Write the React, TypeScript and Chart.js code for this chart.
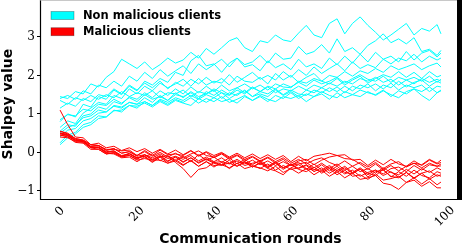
import React, { useEffect, useRef } from "react";
import { Chart, registerables } from "chart.js";

Chart.register(...registerables);

const rounds = [0,2,4,6,8,10,12,14,16,18,20,22,24,26,28,30,32,34,36,38,40,42,44,46,48,50,52,54,56,58,60,62,64,66,68,70,72,74,76,78,80,82,84,86,88,90,92,94,96,98,99];

const xTickValues = [0, 20, 40, 60, 80, 100];
const yTickValues = [-1, 0, 1, 2, 3];

const legendLabels = ["Non malicious clients", "Malicious clients"];
const xTitle = "Communication rounds";
const yTitle = "Shalpey value";

// Non malicious clients
const c1 = [1.45, 1.40,1.58,1.52,1.78,1.70, 1.95,2.10,2.42,2.30,2.18, 2.35,2.15,2.28,2.45,2.32, 2.40,2.60,2.45,2.70,2.55, 2.72,2.90,2.98,2.72,2.62, 2.90,2.85,3.05,2.92,2.88, 3.10,3.30,3.05,2.98,3.35, 3.47,3.08,3.35,3.52,3.30, 3.12,2.92,3.05,3.20,3.35, 3.05,3.22,3.15,3.32,3.08];
const c2 = [1.40, 1.48,1.38,1.60,1.52,1.75, 1.68,1.85,1.72,1.98,1.85, 2.08,1.92,2.15,1.98,2.12, 2.25,2.05,2.30,2.15,2.28, 2.42,2.22,2.45,2.28,2.35, 2.52,2.32,2.58,2.42,2.45, 2.75,2.55,2.62,2.80,2.58, 2.95,2.62,2.72,2.55,2.78, 2.90,3.08,2.85,2.95,2.82, 2.98,2.62,2.68,2.52,2.65];
const c3 = [0.80, 1.00,0.92,1.25,1.18,1.45, 1.38,1.62,1.50,1.72,1.60, 1.85,1.75,1.92,1.82,2.08, 2.00,2.38,2.52,2.25,2.30, 2.08,2.32,2.45,2.22,2.28, 2.12,2.38,2.20,2.30,2.15, 2.42,2.22,2.30,2.18,2.45, 2.28,2.50,2.32,2.55,2.35, 2.60,2.42,2.50,2.35,2.62, 2.40,2.58,2.65,2.48,2.58];
const c4 = [0.65, 0.82,0.75,1.02,1.15,1.30, 1.25,1.48,1.40,1.65,1.52, 1.72,1.60,1.80,1.68,1.78, 1.90,1.72,1.92,1.75,1.85, 1.80,2.02,1.82,1.95,2.08, 1.90,2.00,1.88,2.10,1.95, 2.15,2.00,2.22,2.05,2.18, 2.30,2.12,2.35,2.18,2.28, 2.20,2.42,2.30,2.45,2.38, 2.55,2.35,2.50,2.40,2.45];
const c5 = [1.15, 1.28,1.20,1.40,1.32,1.50, 1.45,1.65,1.52,1.75,1.62, 1.80,1.68,1.85,1.65,1.82, 1.72,1.90,1.78,1.95,1.80, 1.92,1.75,1.98,1.85,1.82, 1.95,1.78,2.05,1.88,2.00, 1.82,1.95,2.05,1.85,1.78, 1.92,1.75,1.88,1.98,1.80, 1.92,2.02,1.95,2.10,1.95, 2.08,1.92,2.10,1.96,2.00];
const c6 = [0.55, 0.72,0.68,0.95,1.00,1.18, 1.12,1.32,1.25,1.45,1.38, 1.55,1.42,1.60,1.48,1.65, 1.52,1.70,1.55,1.72,1.58, 1.75,1.60,1.68,1.78,1.65, 1.75,1.62,1.78,1.70,1.68, 1.85,1.80,1.92,1.85,2.00, 1.95,2.10,1.98,2.12,2.05, 2.18,2.08,2.25,2.15,2.22, 2.30,2.15,2.25,2.32,2.22];
const c7 = [0.50, 0.65,0.72,0.90,0.95,1.10, 1.05,1.22,1.18,1.30,1.25, 1.42,1.30,1.48,1.35,1.50, 1.45,1.55,1.40,1.58,1.48, 1.62,1.50,1.68,1.55,1.70, 1.58,1.72,1.65,1.78,1.70, 1.82,1.72,1.88,1.78,1.85, 1.95,1.80,1.92,2.02,1.90, 1.85,1.98,1.82,1.95,1.88, 1.78,1.92,1.82,1.90,1.85];
const c8 = [0.25, 0.45,0.52,0.72,0.78,0.95, 0.92,1.10,1.05,1.22,1.15, 1.32,1.22,1.38,1.30,1.42, 1.35,1.48,1.38,1.50,1.42, 1.55,1.40,1.52,1.60,1.45, 1.52,1.45,1.62,1.48,1.58, 1.45,1.62,1.55,1.68,1.58, 1.70,1.55,1.72,1.65,1.78, 1.60,1.75,1.68,1.85,1.70, 1.82,1.88,1.72,1.85,1.80];
const c9 = [0.85, 0.98,0.95,1.12,1.08,1.25, 1.22,1.38,1.28,1.42,1.32, 1.50,1.38,1.45,1.35,1.55, 1.42,1.58,1.45,1.52,1.62, 1.40,1.55,1.48,1.62,1.45, 1.58,1.52,1.65,1.50,1.62, 1.52,1.48,1.62,1.55,1.68, 1.58,1.72,1.60,1.75,1.68, 1.78,1.65,1.80,1.62,1.75, 1.68,1.75,1.58,1.72,1.70];
const c10 = [0.40, 0.58,0.62,0.82,0.88,1.02, 1.05,1.20,1.15,1.30,1.25, 1.32,1.22,1.35,1.25,1.38, 1.30,1.42,1.28,1.40,1.32, 1.45,1.30,1.38,1.48,1.35, 1.45,1.32,1.48,1.40,1.55, 1.40,1.52,1.45,1.58,1.48, 1.42,1.58,1.50,1.62,1.55, 1.50,1.62,1.45,1.60,1.52, 1.65,1.58,1.70,1.55,1.62];
const c11 = [1.35, 1.25,1.42,1.35,1.48,1.38, 1.50,1.42,1.58,1.45,1.55, 1.48,1.60,1.42,1.55,1.52, 1.62,1.45,1.58,1.52,1.65, 1.55,1.48,1.62,1.52,1.68, 1.58,1.70,1.55,1.65,1.60, 1.72,1.62,1.75,1.68,1.80, 1.72,1.85,1.78,1.92,1.85, 1.95,1.82,1.90,1.75,1.88, 1.95,1.85,1.98,1.82,1.90];
const c12 = [0.20, 0.38,0.48,0.65,0.72,0.88, 0.92,1.08,1.10,1.22,1.20, 1.28,1.18,1.32,1.22,1.35, 1.28,1.22,1.40,1.30,1.42, 1.32,1.38,1.28,1.45,1.35, 1.48,1.38,1.32,1.45,1.40, 1.48,1.32,1.45,1.52,1.38, 1.55,1.42,1.50,1.45,1.58, 1.48,1.60,1.50,1.42,1.58, 1.65,1.48,1.35,1.55,1.60];

// Malicious clients
const r1 = [1.10, 0.72,0.40,0.38,0.20,0.18, 0.05,0.10,-0.02,0.02,-0.08, 0.02,-0.10,0.00,-0.12,-0.02, -0.14,-0.04,0.04,-0.08,-0.12, -0.02,-0.15,-0.06,-0.18,-0.10, -0.22,-0.12,-0.24,-0.14,-0.28, -0.18,-0.30,-0.20,-0.14,-0.26, -0.34,-0.22,-0.36,-0.26,-0.38, -0.26,-0.42,-0.30,-0.24,-0.38, -0.28,-0.32,-0.18,-0.28,-0.20];
const r2 = [0.55, 0.50,0.36,0.32,0.20,0.24, 0.12,0.16,0.05,0.12,0.02, 0.10,-0.02,0.08,-0.04,0.06, -0.06,0.05,-0.08,0.02,-0.08, 0.00,-0.12,-0.02,-0.14,-0.04, -0.16,-0.06,-0.18,-0.08,-0.24, -0.10,-0.22,-0.10,-0.06,-0.02, -0.08,-0.06,-0.20,-0.18,-0.34, -0.20,-0.32,-0.18,-0.30,-0.36, -0.22,-0.34,-0.20,-0.30,-0.26];
const r3 = [0.50, 0.44,0.30,0.28,0.14,0.12, 0.00,0.02,-0.10,-0.02,-0.14, -0.10,-0.04,-0.22,-0.10,-0.26, -0.42,-0.65,-0.44,-0.40,-0.26, -0.32,-0.28,-0.36,-0.24,-0.34, -0.42,-0.30,-0.46,-0.34,-0.44, -0.40,-0.34,-0.50,-0.40,-0.54, -0.42,-0.56,-0.46,-0.62,-0.52, -0.46,-0.56,-0.42,-0.38,-0.50, -0.34,-0.46,-0.32,-0.36,-0.35];
const r4 = [0.45, 0.42,0.30,0.30,0.16,0.18, 0.06,0.10,-0.02,0.02,-0.10, -0.06,-0.14,-0.04,-0.16,-0.10, -0.18,-0.08,-0.22,-0.12,-0.24, -0.14,-0.28,-0.18,-0.30,-0.20, -0.32,-0.22,-0.34,-0.24,-0.34, -0.30,-0.26,-0.40,-0.28,-0.42, -0.30,-0.46,-0.36,-0.50,-0.42, -0.54,-0.40,-0.52,-0.58,-0.44, -0.56,-0.42,-0.52,-0.40,-0.45];
const r5 = [0.50, 0.46,0.32,0.28,0.12,0.08, -0.04,0.00,-0.10,-0.08,-0.18, -0.06,-0.20,-0.10,-0.24,-0.12, -0.26,-0.14,-0.28,-0.18,-0.28, -0.34,-0.20,-0.36,-0.26,-0.38, -0.28,-0.42,-0.48,-0.58,-0.40, -0.32,-0.44,-0.30,-0.46,-0.34, -0.48,-0.36,-0.52,-0.40,-0.54, -0.60,-0.44,-0.64,-0.50,-0.62, -0.46,-0.60,-0.66,-0.50,-0.54];
const r6 = [0.55, 0.48,0.34,0.30,0.15,0.12, -0.02,-0.04,-0.14,-0.12,-0.24, -0.12,-0.26,-0.12,-0.08,-0.22, -0.10,-0.24,-0.06,-0.20,-0.12, -0.26,-0.14,-0.30,-0.18,-0.32, -0.20,-0.36,-0.24,-0.40,-0.32, -0.26,-0.42,-0.46,-0.32,-0.48, -0.36,-0.52,-0.56,-0.42,-0.64, -0.50,-0.46,-0.62,-0.66,-0.52, -0.68,-0.54,-0.70,-0.58,-0.62];
const r7 = [0.45, 0.40,0.26,0.24,0.08,0.08, -0.04,-0.02,-0.12,-0.08,-0.20, -0.16,-0.20,-0.20,-0.28,-0.22, -0.34,-0.20,-0.36,-0.24,-0.38, -0.26,-0.42,-0.28,-0.24,-0.38, -0.26,-0.40,-0.28,-0.44,-0.32, -0.44,-0.50,-0.38,-0.54,-0.42, -0.58,-0.46,-0.62,-0.58,-0.70, -0.56,-0.72,-0.68,-0.62,-0.78, -0.66,-0.82,-0.68,-0.84,-0.77];
const r8 = [0.40, 0.38,0.28,0.26,0.12,0.14, 0.00,0.04,-0.08,-0.04,-0.14, -0.10,-0.24,-0.12,-0.28,-0.18, -0.32,-0.22,-0.36,-0.24,-0.34, -0.32,-0.40,-0.28,-0.42,-0.36, -0.40,-0.48,-0.36,-0.52,-0.42, -0.54,-0.42,-0.58,-0.46,-0.62, -0.50,-0.66,-0.54,-0.70,-0.66, -0.60,-0.80,-0.84,-0.96,-0.78, -0.72,-0.88,-0.76,-0.92,-0.92];
const r9 = [0.50, 0.47,0.36,0.32,0.20,0.18, 0.08,0.08,0.04,0.06,-0.08, 0.05,-0.08,0.06,-0.06,-0.04, -0.08,0.04,-0.10,0.00,-0.14, -0.04,-0.18,-0.08,-0.22,-0.12, -0.24,-0.14,-0.28,-0.18,-0.34, -0.22,-0.18,-0.32,-0.20,-0.12, -0.08,-0.16,-0.18,-0.30,-0.44, -0.30,-0.46,-0.34,-0.48,-0.36, -0.28,-0.40,-0.28,-0.36,-0.30];
const r10 = [0.48, 0.44,0.32,0.30,0.14,0.14, 0.02,0.04,-0.10,-0.04,-0.16, -0.06,-0.18,-0.08,-0.22,-0.12, -0.24,-0.14,-0.26,-0.16,-0.26, -0.24,-0.30,-0.22,-0.34,-0.28, -0.24,-0.38,-0.26,-0.40,-0.30, -0.42,-0.32,-0.44,-0.50,-0.38, -0.52,-0.40,-0.54,-0.44,-0.58, -0.46,-0.60,-0.50,-0.64,-0.52, -0.66,-0.54,-0.48,-0.62,-0.58];

const benignSeries = [c1, c2, c3, c4, c5, c6, c7, c8, c9, c10, c11, c12];
const maliciousSeries = [r1, r2, r3, r4, r5, r6, r7, r8, r9, r10];

const CYAN = "#00ffff";
const RED = "#ff0000";

function toPoints(values: number[]) {
  return values.map((v, i) => ({ x: rounds[i], y: v }));
}

const decorPlugin = {
  id: "decor",
  afterDraw(chart: any) {
    const ctx = chart.ctx as CanvasRenderingContext2D;
    const area = chart.chartArea;
    const xs = chart.scales.x;
    ctx.save();
    // spines
    ctx.strokeStyle = "#000";
    ctx.lineWidth = 1.2;
    ctx.beginPath();
    ctx.moveTo(area.left - 0.5, 0);
    ctx.lineTo(area.left - 0.5, area.bottom + 0.5);
    ctx.lineTo(462, area.bottom + 0.5);
    ctx.stroke();
    ctx.strokeStyle = "#c8c8c8";
    ctx.lineWidth = 1;
    ctx.beginPath();
    ctx.moveTo(area.left - 0.5, 0.5);
    ctx.lineTo(457, 0.5);
    ctx.stroke();
    ctx.fillStyle = "#000";
    ctx.fillRect(457, 0, 5, area.bottom + 1);

    // x tick labels, rotated 45deg and centred on the tick
    ctx.font = "12px 'DejaVu Serif'";
    ctx.fillStyle = "#000";
    ctx.textAlign = "center";
    ctx.textBaseline = "middle";
    const s = Math.SQRT1_2;
    for (const v of xTickValues) {
      const label = String(v);
      const px = xs.getPixelForValue(v);
      const w = ctx.measureText(label).width * 0.92;
      const h = 8.8;
      const H = (w + h) * s;
      const cy = area.bottom + 7 + H / 2;
      ctx.save();
      ctx.translate(px, cy);
      ctx.rotate(-Math.PI / 4);
      ctx.fillText(label, 0, 0);
      ctx.restore();
    }

    // axis titles
    ctx.font = "bold 14px 'DejaVu Sans'";
    ctx.textAlign = "center";
    ctx.textBaseline = "alphabetic";
    ctx.fillText(xTitle, (area.left + area.right) / 2, 243);
    ctx.save();
    ctx.translate(12, (area.top + area.bottom) / 2);
    ctx.rotate(-Math.PI / 2);
    ctx.fillText(yTitle, 0, 0);
    ctx.restore();

    // legend
    const colors = [CYAN, RED];
    const rows = [15.5, 31.7];
    ctx.font = "bold 11.5px 'DejaVu Sans'";
    ctx.textAlign = "left";
    ctx.textBaseline = "middle";
    legendLabels.forEach((lab, i) => {
      const cy = rows[i];
      ctx.fillStyle = colors[i];
      ctx.fillRect(51, cy - 4, 23, 8);
      ctx.strokeStyle = "rgba(0,0,0,0.35)";
      ctx.lineWidth = 0.8;
      ctx.strokeRect(51, cy - 4, 23, 8);
      ctx.fillStyle = "#000";
      ctx.fillText(lab, 83, cy + 0.5);
    });
    ctx.restore();
  },
};

export default function App() {
  const ref = useRef<HTMLCanvasElement | null>(null);
  useEffect(() => {
    document.body.style.margin = "0";
    const canvas = ref.current;
    if (!canvas) return;
    const datasets: any[] = [];
    maliciousSeries.forEach((vals, i) =>
      datasets.push({
        label: i === 0 ? legendLabels[1] : "",
        data: toPoints(vals),
        borderColor: RED,
        backgroundColor: RED,
        borderWidth: 1,
        pointRadius: 0,
        tension: 0,
        fill: false,
      })
    );
    benignSeries.forEach((vals, i) =>
      datasets.push({
        label: i === 0 ? legendLabels[0] : "",
        data: toPoints(vals),
        borderColor: CYAN,
        backgroundColor: CYAN,
        borderWidth: 1,
        pointRadius: 0,
        tension: 0,
        fill: false,
      })
    );
    const chart = new Chart(canvas, {
      type: "line",
      data: { datasets },
      options: {
        animation: false,
        responsive: false,
        devicePixelRatio: 1,
        events: [],
        layout: { padding: { left: 0, right: 2, top: 0, bottom: 0 } },
        plugins: { legend: { display: false }, tooltip: { enabled: false } },
        scales: {
          x: {
            type: "linear",
            min: -4.95,
            max: 103.95,
            grid: { display: false },
            border: { display: false },
            ticks: { display: false },
            afterFit: (sc: any) => {
              sc.height = 45;
            },
          },
          y: {
            type: "linear",
            min: -1.21,
            max: 3.72,
            grid: {
              display: true,
              drawOnChartArea: false,
              drawTicks: true,
              tickLength: 4,
              color: "#000",
              lineWidth: 1,
            },
            border: { display: false },
            ticks: {
              color: "#000",
              padding: 2,
              font: { family: "'DejaVu Serif'", size: 12 },
              callback: (v: any) => String(v).replace("-", "\u2212"),
            },
            afterBuildTicks: (sc: any) => {
              sc.ticks = yTickValues.map((v) => ({ value: v }));
            },
            afterFit: (sc: any) => {
              sc.width = 41;
            },
          },
        },
      } as any,
      plugins: [decorPlugin],
    });
    return () => chart.destroy();
  }, []);
  return (
    <div style={{ width: 462, height: 244 }}>
      <canvas ref={ref} width={462} height={244} />
    </div>
  );
}
